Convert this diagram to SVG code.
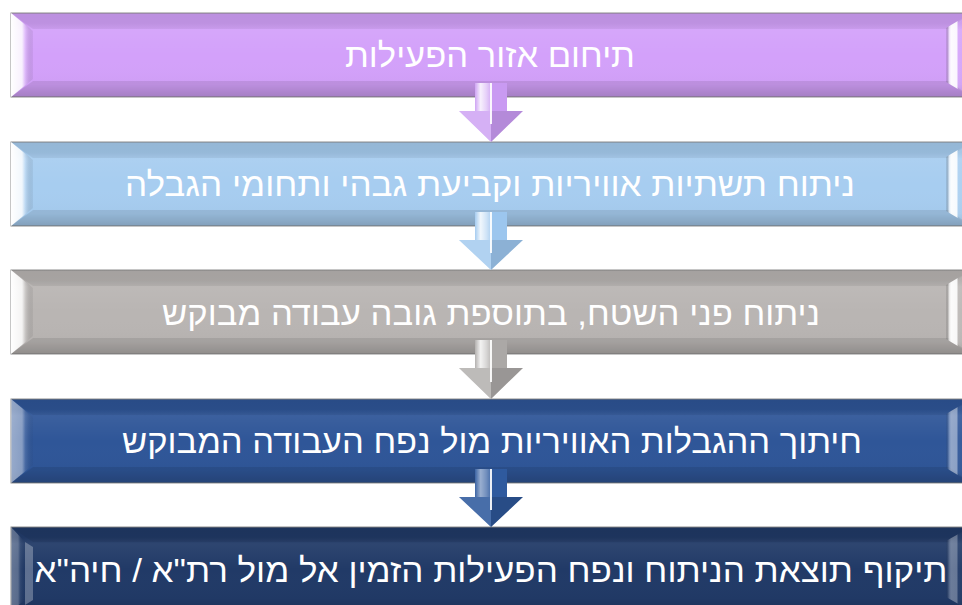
<svg xmlns="http://www.w3.org/2000/svg" width="962" height="605" viewBox="0 0 962 605">
<defs>
<style>
.box{stroke:#8e8e8e;stroke-width:1}
.shade{fill:url(#vshade)}
.lface{fill:url(#leftFace)}
.rface{fill:url(#rightFace)}
.tface{fill:#000;fill-opacity:0.05}
.bface{fill:#000;fill-opacity:0.09}
.lbl{fill:#fff;font-family:"Liberation Sans","DejaVu Sans",sans-serif;font-size:33px;text-anchor:middle;direction:rtl}
.hl{fill:#fff;fill-opacity:0.22}
.dk{fill:#000;fill-opacity:0.1}
.shl{fill:url(#shaftHi)}
.cl{stroke:#fff;stroke-width:2;stroke-opacity:0.9}
</style>
<linearGradient id="vshade" x1="0" y1="0" x2="0" y2="1">
<stop offset="0" stop-color="#000" stop-opacity="0.06"/>
<stop offset="0.12" stop-color="#000" stop-opacity="0.05"/>
<stop offset="0.2" stop-color="#fff" stop-opacity="0.06"/>
<stop offset="0.5" stop-color="#fff" stop-opacity="0"/>
<stop offset="0.85" stop-color="#000" stop-opacity="0.02"/>
<stop offset="1" stop-color="#000" stop-opacity="0.14"/>
</linearGradient>
<linearGradient id="leftFace" x1="0" y1="0" x2="1" y2="0">
<stop offset="0" stop-color="#fff" stop-opacity="1"/>
<stop offset="0.5" stop-color="#fff" stop-opacity="0.85"/>
<stop offset="0.65" stop-color="#fff" stop-opacity="0.25"/>
<stop offset="1" stop-color="#000" stop-opacity="0.05"/>
</linearGradient>
<linearGradient id="rightFace" x1="0" y1="0" x2="1" y2="0">
<stop offset="0" stop-color="#000" stop-opacity="0.04"/>
<stop offset="0.12" stop-color="#fff" stop-opacity="0.6"/>
<stop offset="0.2" stop-color="#fff" stop-opacity="0.95"/>
<stop offset="0.42" stop-color="#fff" stop-opacity="0.9"/>
<stop offset="0.5" stop-color="#fff" stop-opacity="0.1"/>
<stop offset="1" stop-color="#fff" stop-opacity="0"/>
</linearGradient>
<linearGradient id="shaftHi" x1="0" y1="0" x2="1" y2="0">
<stop offset="0" stop-color="#fff" stop-opacity="0.1"/>
<stop offset="0.35" stop-color="#fff" stop-opacity="0.85"/>
<stop offset="0.7" stop-color="#fff" stop-opacity="0.55"/>
<stop offset="1" stop-color="#fff" stop-opacity="0.2"/>
</linearGradient>
</defs>

<g id="node1">
<rect class="box" x="11" y="13" width="960" height="84" fill="#D3A1FA"/>
<rect class="shade" x="11" y="13" width="960" height="84"/>
<polygon class="tface" points="11,13 971,13 949,29 33,29"/>
<polygon class="bface" points="11,97 971,97 949,81 33,81"/>
<polygon class="lface" points="11,13 33,31 33,79 11,97"/>
<polygon class="rface" points="946,28 971,13 971,97 946,82"/>
<text class="lbl" x="490" y="67" textLength="290" lengthAdjust="spacingAndGlyphs">תיחום אזור הפעילות</text>
</g>
<g id="node2">
<rect class="box" x="11" y="142" width="960" height="84" fill="#A7CDF0"/>
<rect class="shade" x="11" y="142" width="960" height="84"/>
<polygon class="tface" points="11,142 971,142 949,158 33,158"/>
<polygon class="bface" points="11,226 971,226 949,210 33,210"/>
<polygon class="lface" points="11,142 33,160 33,208 11,226"/>
<polygon class="rface" points="946,157 971,142 971,226 946,211"/>
<text class="lbl" x="490" y="196" textLength="730" lengthAdjust="spacingAndGlyphs">ניתוח תשתיות אוויריות וקביעת גבהי ותחומי הגבלה</text>
</g>
<g id="node3">
<rect class="box" x="11" y="270" width="960" height="84" fill="#B9B5B3"/>
<rect class="shade" x="11" y="270" width="960" height="84"/>
<polygon class="tface" points="11,270 971,270 949,286 33,286"/>
<polygon class="bface" points="11,354 971,354 949,338 33,338"/>
<polygon class="lface" points="11,270 33,288 33,336 11,354"/>
<polygon class="rface" points="946,285 971,270 971,354 946,339"/>
<text class="lbl" x="491" y="325" textLength="658" lengthAdjust="spacingAndGlyphs">ניתוח פני השטח, בתוספת גובה עבודה מבוקש</text>
</g>
<g id="node4">
<rect class="box" x="11" y="399" width="960" height="84" fill="#2F5698"/>
<rect class="shade" x="11" y="399" width="960" height="84"/>
<polygon class="tface" points="11,399 971,399 949,415 33,415"/>
<polygon class="bface" points="11,483 971,483 949,467 33,467"/>
<polygon class="lface" points="11,399 33,417 33,465 11,483" opacity="0.5"/>
<polygon class="rface" points="946,414 971,399 971,483 946,468" opacity="0.5"/>
<text class="lbl" x="492" y="453" textLength="740" lengthAdjust="spacingAndGlyphs">חיתוך ההגבלות האוויריות מול נפח העבודה המבוקש</text>
</g>
<g id="node5">
<rect class="box" x="11" y="527" width="960" height="84" fill="#213A67"/>
<rect class="shade" x="11" y="527" width="960" height="84"/>
<polygon class="tface" points="11,527 971,527 949,542 33,542"/>
<polygon class="lface" points="11,527 25,542 25,600 11,611" opacity="0.3"/>
<polygon points="25,542 33,547 33,600 25,605" fill="#fff" fill-opacity="0.28"/>
<polygon class="rface" points="946,541 971,527 971,611 946,597" opacity="0.35"/>
<text class="lbl" x="491" y="582" textLength="913" lengthAdjust="spacingAndGlyphs">תיקוף תוצאת הניתוח ונפח הפעילות הזמין אל מול רת"א / חיה"א</text>
</g>

<g id="connectors">
<g id="arrow1">
<path d="M475,83 H507 V111 H523 L491,142 L459,111 H475 Z" fill="#C99AF2"/>
<polygon class="hl" points="459,111 491,111 491,142"/>
<polygon class="dk" points="491,111 523,111 491,142"/>
<rect class="shl" x="475" y="83" width="16" height="28"/>
<line class="cl" x1="491" y1="83" x2="491" y2="124"/>
</g>
<g id="arrow2">
<path d="M475,212 H507 V240 H523 L491,270 L459,240 H475 Z" fill="#9CC6EE"/>
<polygon class="hl" points="459,240 491,240 491,270"/>
<polygon class="dk" points="491,240 523,240 491,270"/>
<rect class="shl" x="475" y="212" width="16" height="28"/>
<line class="cl" x1="491" y1="212" x2="491" y2="253"/>
</g>
<g id="arrow3">
<path d="M475,340 H507 V368 H523 L491,399 L459,368 H475 Z" fill="#ABA8A6"/>
<polygon class="hl" points="459,368 491,368 491,399"/>
<polygon class="dk" points="491,368 523,368 491,399"/>
<rect class="shl" x="475" y="340" width="16" height="28"/>
<line class="cl" x1="491" y1="340" x2="491" y2="382"/>
</g>
<g id="arrow4">
<path d="M475,469 H507 V497 H523 L491,527 L459,497 H475 Z" fill="#2F5A9E"/>
<polygon class="hl" points="459,497 491,497 491,527" style="fill-opacity:0.12"/>
<polygon class="dk" points="491,497 523,497 491,527" style="fill-opacity:0.15"/>
<rect class="shl" x="475" y="469" width="16" height="28" opacity="0.6"/>
<line class="cl" x1="491" y1="469" x2="491" y2="510" stroke-opacity="0.5"/>
</g>
</g>
</svg>
